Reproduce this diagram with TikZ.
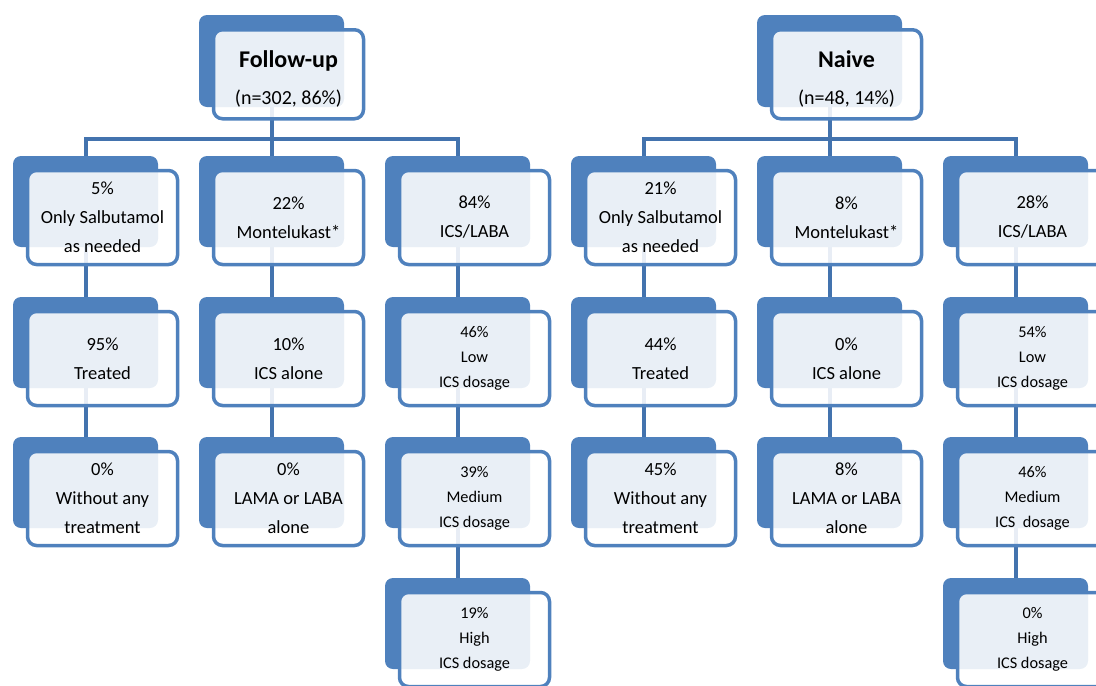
\documentclass[tikz,border=0pt]{standalone}
\usepackage{fontspec}
\setmainfont{Carlito}
\usetikzlibrary{backgrounds}
\definecolor{boxblue}{HTML}{4F81BD}
\definecolor{linkblue}{HTML}{4373AE}
\tikzset{
 backbox/.style={fill=boxblue, rounded corners=8pt, minimum width=145pt, minimum height=91pt, inner sep=0pt, outer sep=0pt},
 frontbox/.style={draw=boxblue, line width=3.5pt, fill=white, fill opacity=0.88, text opacity=1, rounded corners=9pt, minimum width=150pt, minimum height=94pt, inner sep=0pt, align=center},
 bigtext/.style={font=\fontsize{18.5}{29}\selectfont},
 smalltext/.style={font=\fontsize{16.3}{25}\selectfont},
 toptext/.style={font=\fontsize{20}{37}\selectfont, minimum height=89pt},
 link/.style={draw=linkblue, line width=4pt},
}
\newcommand\pairnode[5]{%
 \node[backbox] (b#1) at (#2+72.5,#3+45.5) {};
 \node[frontbox,#4] (f#1) at (#2+89.5,#3+61.5) {#5};
}
\begin{document}
\begin{tikzpicture}[x=1pt,y=-1pt]
\useasboundingbox (0,0) rectangle (1096,686);
\clip (0,0) rectangle (1096,686);
% top nodes
\node[backbox, minimum height=92pt] (btopA) at (199+72.5,15+46) {};
\node[frontbox, toptext] (ftopA) at (199+89.5,28+46.25) {\rule{0pt}{26pt}\textbf{\fontsize{24}{37}\selectfont Follow-up}\\(n=302, 86\%)};
\node[backbox, minimum height=92pt] (btopB) at (757+72.5,15+46) {};
\node[frontbox, toptext] (ftopB) at (757+89.5,28+46.25) {\rule{0pt}{26pt}\textbf{\fontsize{24}{37}\selectfont Naive}\\(n=48, 14\%)};
% column 1
\pairnode{11}{13}{156}{bigtext}{5\%\\Only Salbutamol\\as needed}
\pairnode{12}{13}{297}{bigtext}{95\%\\Treated}
\pairnode{13}{13}{437}{bigtext}{0\%\\Without any\\treatment}
% column 2
\pairnode{21}{199}{156}{bigtext}{22\%\\Montelukast*}
\pairnode{22}{199}{297}{bigtext}{10\%\\ICS alone}
\pairnode{23}{199}{437}{bigtext}{0\%\\LAMA or LABA\\alone}
% column 3
\pairnode{31}{385}{156}{bigtext}{84\%\\ICS/LABA}
\pairnode{32}{385}{297}{smalltext}{46\%\\Low\\ICS dosage}
\pairnode{33}{385}{437}{smalltext}{39\%\\Medium\\ICS dosage}
\pairnode{34}{385}{578}{smalltext}{19\%\\High\\ICS dosage}
% column 4
\pairnode{41}{571}{156}{bigtext}{21\%\\Only Salbutamol\\as needed}
\pairnode{42}{571}{297}{bigtext}{44\%\\Treated}
\pairnode{43}{571}{437}{bigtext}{45\%\\Without any\\treatment}
% column 5
\pairnode{51}{757}{156}{bigtext}{8\%\\Montelukast*}
\pairnode{52}{757}{297}{bigtext}{0\%\\ICS alone}
\pairnode{53}{757}{437}{bigtext}{8\%\\LAMA or LABA\\alone}
% column 6
\pairnode{61}{943}{156}{bigtext}{28\%\\ICS/LABA}
\pairnode{62}{943}{297}{smalltext}{54\%\\Low\\ICS dosage}
\pairnode{63}{943}{437}{smalltext}{46\%\\Medium\\ICS\ \ dosage}
\pairnode{64}{943}{578}{smalltext}{0\%\\High\\ICS dosage}
% connectors
\begin{scope}[on background layer]
\coordinate (bar) at (0,139);
\foreach \c in {11,21,31} \draw[link] (btopA.center) -- (btopA.center |- bar) -| (b\c.center);
\foreach \c in {41,51,61} \draw[link] (btopB.center) -- (btopB.center |- bar) -| (b\c.center);
\draw[link] (b11.center) -- (b12.center) -- (b13.center);
\draw[link] (b21.center) -- (b22.center) -- (b23.center);
\draw[link] (b31.center) -- (b32.center) -- (b33.center) -- (b34.center);
\draw[link] (b41.center) -- (b42.center) -- (b43.center);
\draw[link] (b51.center) -- (b52.center) -- (b53.center);
\draw[link] (b61.center) -- (b62.center) -- (b63.center) -- (b64.center);
\end{scope}
\end{tikzpicture}
\end{document}
